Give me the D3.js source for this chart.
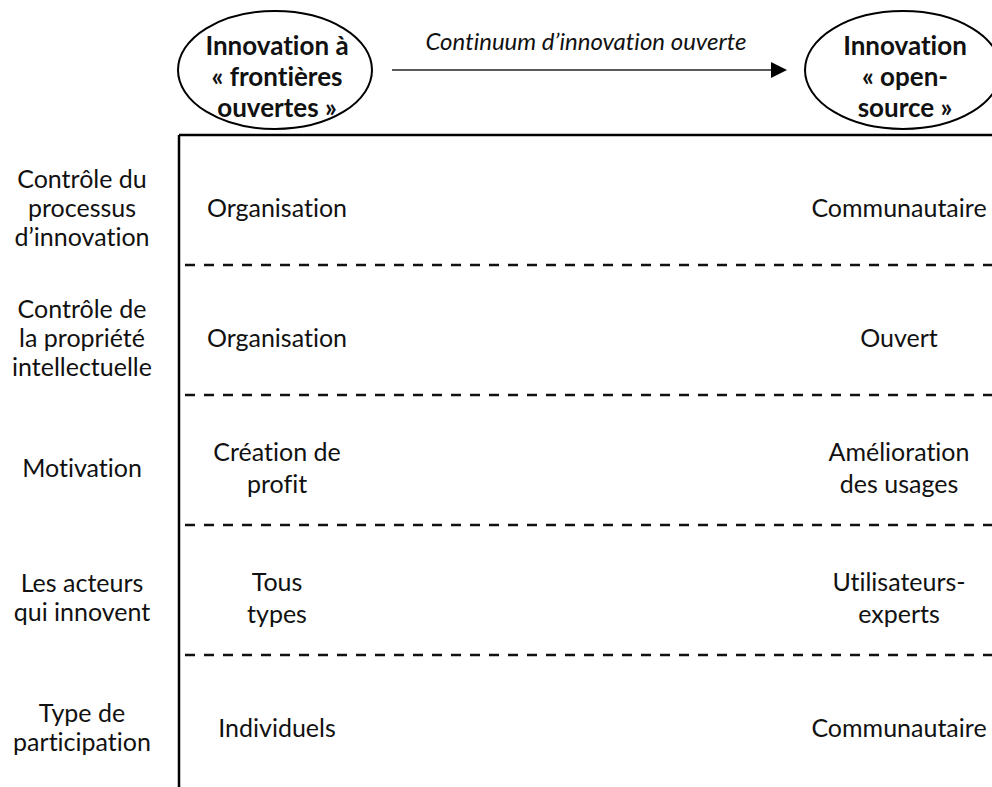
<!DOCTYPE html>
<html>
<head>
<meta charset="utf-8">
<script src="https://cdn.jsdelivr.net/npm/d3@7"></script>
<style>
  html, body { margin: 0; padding: 0; background: #fff; }
  svg { display: block; }
  text { font-family: Lato, "Open Sans", sans-serif; fill: #111; font-variant-ligatures: none; font-feature-settings: "liga" 0; }
</style>
</head>
<body>
<svg id="chart" width="992" height="787"></svg>
<script>
// ---- Data ----
const rowKeys = ["controleProcessus", "controlePI", "motivation", "acteurs", "participation"];
const rowLabels = [
  ["Contrôle du", "processus", "d’innovation"],
  ["Contrôle de", "la propriété", "intellectuelle"],
  ["Motivation"],
  ["Les acteurs", "qui innovent"],
  ["Type de", "participation"]
];
const leftValues = [
  ["Organisation"],
  ["Organisation"],
  ["Création de", "profit"],
  ["Tous", "types"],
  ["Individuels"]
];
const rightValues = [
  ["Communautaire"],
  ["Ouvert"],
  ["Amélioration", "des usages"],
  ["Utilisateurs-", "experts"],
  ["Communautaire"]
];
const headerLeft = ["Innovation à", "« frontières", "ouvertes »"];
const headerRight = ["Innovation", "« open-", "source »"];
const arrowLabel = "Continuum d’innovation ouverte";

// ---- Layout ----
const svg = d3.select("#chart");
const W = 992, H = 787;
const tableTop = 135, tableLeft = 179;

const y = d3.scaleBand().domain(rowKeys).range([tableTop, tableTop + 5 * 130]).padding(0);
const colX = { label: 82, left: 277, right: 899 };

// arrow marker
svg.append("defs").append("marker")
  .attr("id", "arrowhead")
  .attr("viewBox", "0 0 10 10")
  .attr("refX", 0).attr("refY", 5)
  .attr("markerWidth", 16).attr("markerHeight", 17)
  .attr("markerUnits", "userSpaceOnUse")
  .attr("orient", "auto")
  .append("path").attr("d", "M0,0 L10,5 L0,10 Z").attr("fill", "#000");

// Table frame
svg.append("line")
  .attr("x1", tableLeft).attr("x2", W + 5)
  .attr("y1", tableTop).attr("y2", tableTop)
  .attr("stroke", "#000").attr("stroke-width", 2.5);
svg.append("line")
  .attr("x1", tableLeft).attr("x2", tableLeft)
  .attr("y1", tableTop).attr("y2", H + 5)
  .attr("stroke", "#000").attr("stroke-width", 2.5);

// Dashed separators
svg.selectAll("line.sep")
  .data(rowKeys.slice(1))
  .join("line")
  .attr("class", "sep")
  .attr("x1", tableLeft + 6).attr("x2", W + 5)
  .attr("y1", d => y(d)).attr("y2", d => y(d))
  .attr("stroke", "#111").attr("stroke-width", 2.5)
  .attr("stroke-dasharray", "10,9");

// Multi-line text helper
function multiText(g, lines, x, cy, lh, opts = {}) {
  const t = g.append("text")
    .attr("text-anchor", "middle")
    .attr("font-size", opts.size || 25)
    .attr("font-weight", opts.weight || "normal")
    .attr("font-style", opts.style || "normal");
  const n = lines.length;
  lines.forEach((s, i) => {
    t.append("tspan")
      .attr("x", x)
      .attr("y", cy + (i - (n - 1) / 2) * lh)
      .attr("dy", "0.35em")
      .text(s);
  });
  return t;
}

const body = svg.append("g");
const off = 8;
rowKeys.forEach((k, i) => {
  const cy = y(k) + y.bandwidth() / 2 + off;
  multiText(body, rowLabels[i], colX.label, cy, 29);
  multiText(body, leftValues[i], colX.left, cy, 32);
  multiText(body, rightValues[i], colX.right, cy, 32);
});

// Header ellipses
const head = svg.append("g");
head.append("ellipse").attr("cx", 275).attr("cy", 70).attr("rx", 97).attr("ry", 59)
  .attr("fill", "none").attr("stroke", "#000").attr("stroke-width", 2);
head.append("ellipse").attr("cx", 903).attr("cy", 70).attr("rx", 98).attr("ry", 59)
  .attr("fill", "none").attr("stroke", "#000").attr("stroke-width", 2);
multiText(head, headerLeft, 277, 77, 31, { weight: "bold", size: 26 });
multiText(head, headerRight, 905, 77, 31, { weight: "bold", size: 26 });

// Arrow
head.append("line")
  .attr("x1", 392).attr("x2", 771)
  .attr("y1", 70).attr("y2", 70)
  .attr("stroke", "#222").attr("stroke-width", 1.5)
  .attr("marker-end", "url(#arrowhead)");
head.append("text")
  .attr("x", 586).attr("y", 50)
  .attr("text-anchor", "middle")
  .attr("font-size", 24)
  .attr("font-style", "italic")
  .text(arrowLabel);
</script>
</body>
</html>
